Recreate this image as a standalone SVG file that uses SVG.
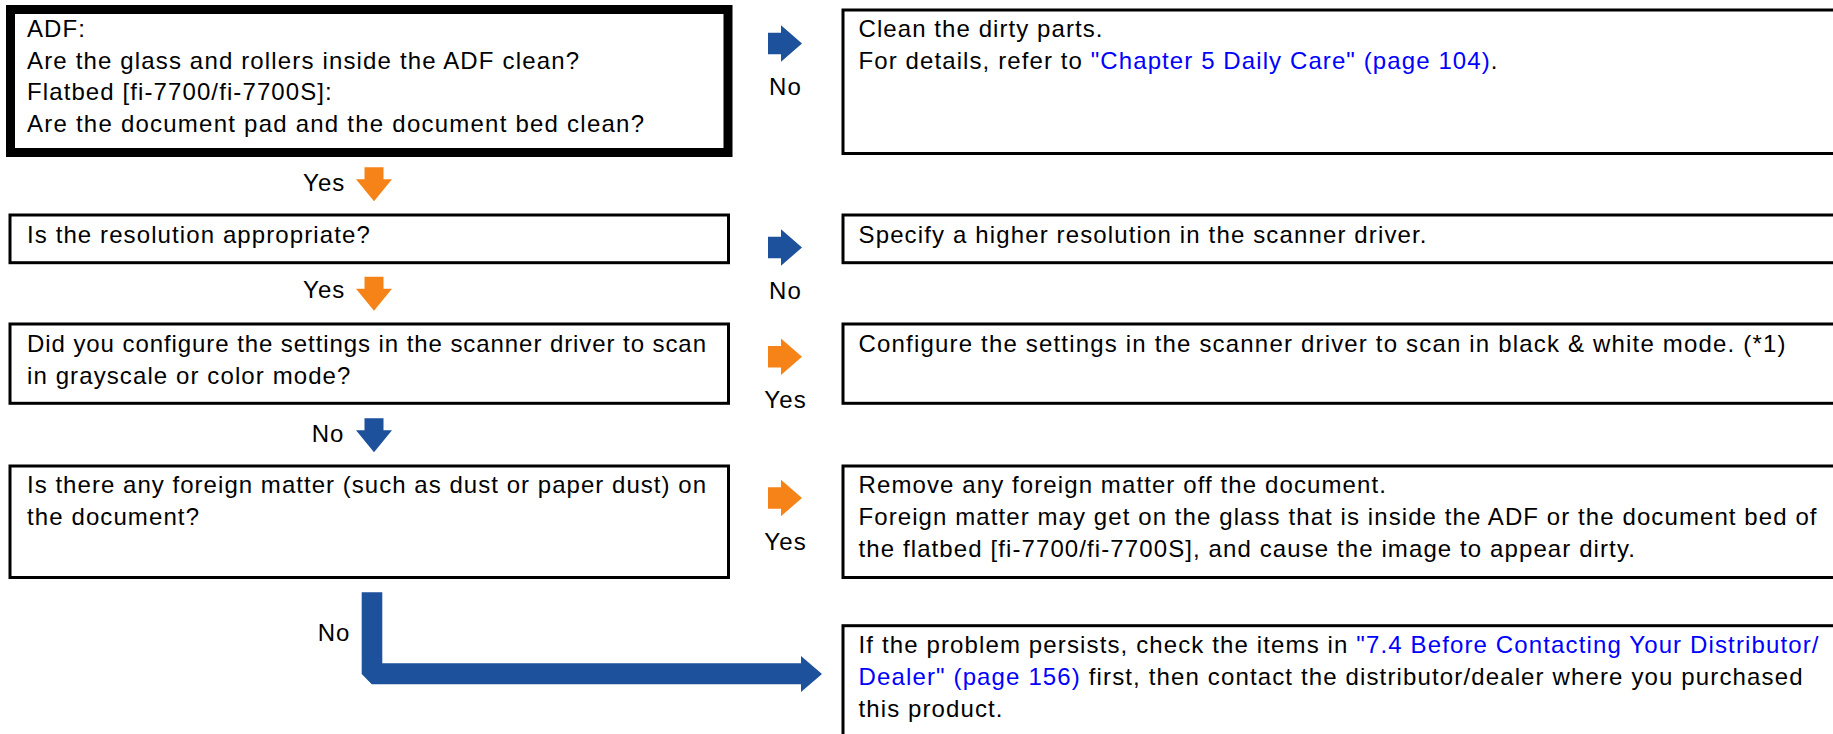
<svg xmlns="http://www.w3.org/2000/svg" xmlns:xlink="http://www.w3.org/1999/xlink" width="1833" height="734" viewBox="0 0 1833 734">
<style>
text{font-family:"Liberation Sans",Arial,sans-serif;font-size:24px;fill:#000;letter-spacing:1.1px}
text.j{letter-spacing:0}
.lk{fill:#0000ff}
.box{fill:#fff;stroke:#000;stroke-width:3}
.thick{fill:#fff;stroke:#000;stroke-width:9}
.blue{fill:#1d519c}
.orange{fill:#f68318}
</style>
<defs>
<path id="ar" d="M0,-10.8 H13 V-18.2 L34,0 L13,18.2 V10.8 H0 Z"/>
<path id="ad" d="M-9.5,0 H9.5 V12 H18 L0,34 L-18,12 H-9.5 Z"/>
</defs>
<rect width="1833" height="734" fill="#fff"/>

<g id="q1">
<rect class="thick" x="10.5" y="9.5" width="717.5" height="143"/>
<text x="27" y="37">ADF:</text>
<text class="j" x="27" y="68.5" textLength="552">Are the glass and rollers inside the ADF clean?</text>
<text x="27" y="100">Flatbed [fi-7700/fi-7700S]:</text>
<text class="j" x="27" y="131.5" textLength="617">Are the document pad and the document bed clean?</text>
</g>
<g id="a1">
<rect class="box" x="843" y="10" width="1010" height="143.5"/>
<text class="j" x="858.5" y="37.3" textLength="244">Clean the dirty parts.</text>
<text class="j" x="858.5" y="68.5" textLength="639">For details, refer to <tspan class="lk">"Chapter 5 Daily Care" (page 104)</tspan>.</text>
</g>

<g id="q2">
<rect class="box" x="10" y="215" width="718.5" height="47.7"/>
<text x="27" y="243.3">Is the resolution appropriate?</text>
</g>
<g id="a2">
<rect class="box" x="843" y="215" width="1010" height="47.7"/>
<text class="j" x="858.5" y="243.3" textLength="568">Specify a higher resolution in the scanner driver.</text>
</g>

<g id="q3">
<rect class="box" x="10" y="324" width="718.5" height="79.3"/>
<text class="j" x="27" y="352.3" textLength="679">Did you configure the settings in the scanner driver to scan</text>
<text x="27" y="384">in grayscale or color mode?</text>
</g>
<g id="a3">
<rect class="box" x="843" y="324" width="1010" height="79.3"/>
<text class="j" x="858.5" y="352.3" textLength="927">Configure the settings in the scanner driver to scan in black &amp; white mode. (*1)</text>
</g>

<g id="q4">
<rect class="box" x="10" y="466" width="718.5" height="111.5"/>
<text class="j" x="27" y="493.3" textLength="679">Is there any foreign matter (such as dust or paper dust) on</text>
<text x="27" y="525">the document?</text>
</g>
<g id="a4">
<rect class="box" x="843" y="466" width="1010" height="111.5"/>
<text x="858.5" y="493.3">Remove any foreign matter off the document.</text>
<text class="j" x="858.5" y="525" textLength="958">Foreign matter may get on the glass that is inside the ADF or the document bed of</text>
<text x="858.5" y="556.7">the flatbed [fi-7700/fi-7700S], and cause the image to appear dirty.</text>
</g>

<g id="a5">
<rect class="box" x="843" y="625.7" width="1010" height="130"/>
<text class="j" x="858.5" y="653.3" textLength="960">If the problem persists, check the items in <tspan class="lk">"7.4 Before Contacting Your Distributor/</tspan></text>
<text class="j" x="858.5" y="685" textLength="944"><tspan class="lk">Dealer" (page 156)</tspan> first, then contact the distributor/dealer where you purchased</text>
<text x="858.5" y="716.7">this product.</text>
</g>

<g id="connectors">
<use xlink:href="#ar" href="#ar" class="blue" x="768" y="43.5"/>
<text x="769" y="95">No</text>
<use xlink:href="#ad" href="#ad" class="orange" x="374" y="167.3"/>
<text x="303" y="190.7">Yes</text>

<use xlink:href="#ar" href="#ar" class="blue" x="768" y="247.5"/>
<text x="769" y="299">No</text>
<use xlink:href="#ad" href="#ad" class="orange" x="374" y="276.7"/>
<text x="303" y="298.3">Yes</text>

<use xlink:href="#ar" href="#ar" class="orange" x="768" y="356.7"/>
<text x="764.3" y="408.3">Yes</text>
<use xlink:href="#ad" href="#ad" class="blue" x="374" y="418.3"/>
<text x="311.7" y="441.7">No</text>

<use xlink:href="#ar" href="#ar" class="orange" x="768" y="498"/>
<text x="764.3" y="550">Yes</text>

<path class="blue" d="M361.7,592.3 H382.3 V663.3 H801 V656 L822,674 L801,692 V684.3 H371.7 L361.7,674 Z"/>
<text x="317.7" y="641">No</text>
</g>
</svg>
